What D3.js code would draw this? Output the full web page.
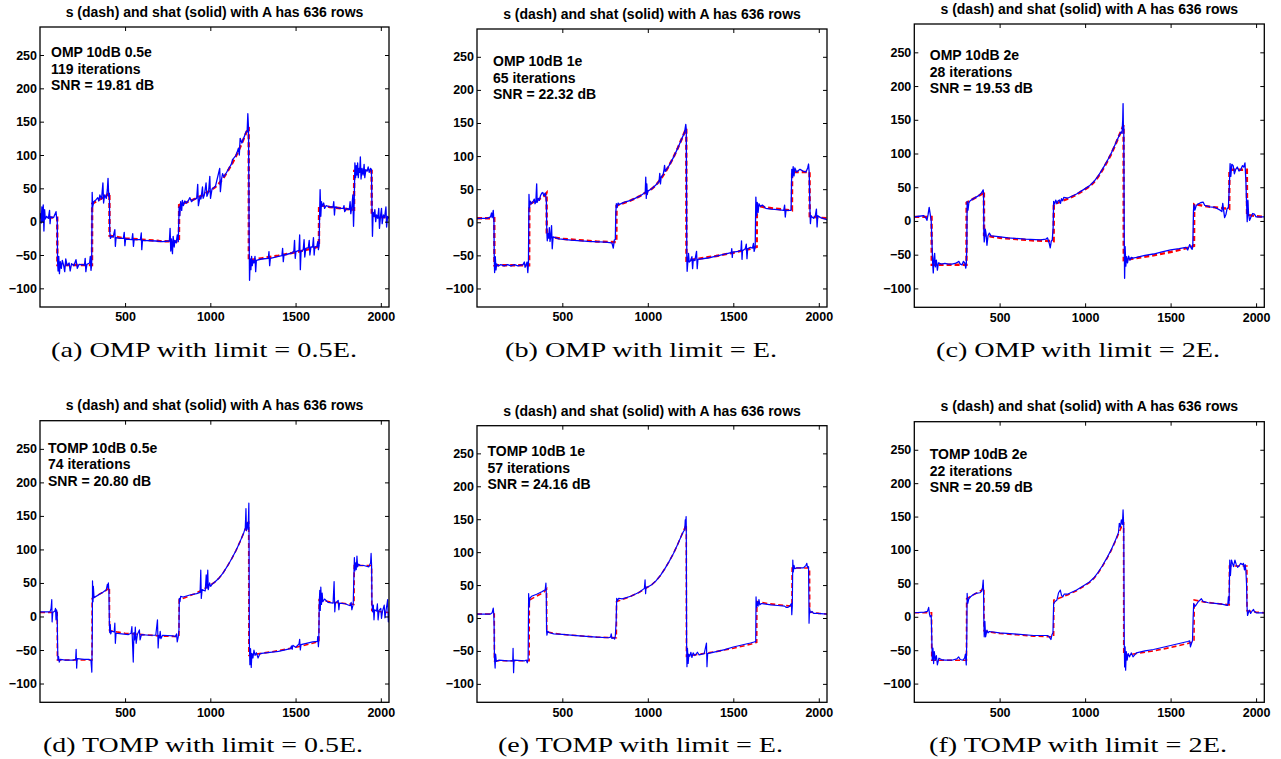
<!DOCTYPE html>
<html>
<head>
<meta charset="utf-8">
<script src="https://cdn.jsdelivr.net/npm/d3@7"></script>
<style>
  body { margin: 0; background: #fff; }
  .tick text { font-family: "Liberation Sans", Arial, sans-serif; font-weight: bold; font-size: 12.5px; fill: #000; }
  .tick line { stroke: #000; stroke-width: 1; }
</style>
</head>
<body>
<script>
// ---- data ----
let xTicks = [500, 1000, 1500, 2000];
let yTicks = [-100, -50, 0, 50, 100, 150, 200, 250];
let titleText = "s (dash) and shat (solid) with A has 636 rows";

// true signal s (red dashed)
let sTrue = [[1,6],[102,6],[103,-65],[306,-65],[307,27],[340,32],[370,36],[395,40],[408,44],[409,-21],[450,-23],[500,-25],[600,-27],[700,-29],[816,-30],[817,25],[850,28],[900,33],[950,39],[1000,47],[1025,51],[1050,57],[1075,65],[1100,75],[1125,86],[1150,98],[1175,112],[1200,127],[1225,142],[1226,-58],[1300,-55],[1400,-51],[1500,-46],[1600,-40],[1637,-37],[1638,25],[1700,22],[1800,19],[1843,18],[1844,76],[1946,76],[1947,9],[2000,7],[2048,6]];

// reconstructions shat (blue solid)
let shatOmp05 = [[1,6],[5,12],[8,-2],[12,22],[16,0],[20,25],[24,-14],[28,18],[32,4],[40,8],[50,5],[57,17],[60,-3],[64,7],[80,6],[95,15],[99,4],[102,6],
[104,-60],[107,-74],[111,-52],[115,-78],[120,-60],[126,-70],[132,-58],[140,-66],[146,-75],[152,-56],[160,-66],[172,-62],[178,-74],[186,-63],[200,-66],[212,-57],[220,-70],[230,-64],[262,-65],[266,-55],[270,-75],[276,-64],[292,-62],[296,-52],[300,-73],[304,-65],
[307,44],[310,22],[316,30],[330,33],[340,36],[346,31],[352,40],[362,34],[370,58],[374,28],[380,40],[390,35],[396,48],[400,65],[404,38],[408,42],
[410,-15],[414,-25],[420,-22],[430,-23],[440,-12],[443,-37],[447,-24],[470,-25],[490,-25],[495,-16],[499,-36],[503,-26],[540,-27],[545,-18],[549,-37],[553,-27],[590,-27],[595,-17],[598,-42],[602,-28],[680,-29],[720,-30],[760,-29],[764,-10],[768,-44],[772,-26],[778,-48],[782,-22],[788,-38],[792,-28],[800,-32],[806,-20],[812,-30],
[817,22],[821,9],[826,30],[832,17],[836,32],[842,24],[850,31],[860,28],[870,31],[880,36],[890,30],[900,33],[920,35],[926,56],[930,24],[940,38],[945,34],[954,52],[958,35],[965,40],[975,58],[980,38],[990,45],[997,68],[1001,35],[1010,49],[1030,53],[1055,80],[1059,45],[1066,64],[1072,72],[1080,67],[1100,76],[1125,87],[1130,93],[1150,99],[1165,110],[1170,100],[1175,125],[1185,118],[1200,128],[1210,135],[1216,135],[1220,162],[1224,140],
[1228,-32],[1230,-88],[1234,-56],[1238,-72],[1242,-52],[1246,-66],[1250,-58],[1256,-62],[1262,-52],[1266,-75],[1270,-58],[1300,-56],[1340,-55],[1344,-45],[1348,-66],[1352,-55],[1400,-52],[1420,-51],[1424,-40],[1428,-60],[1432,-50],[1480,-47],[1490,-44],[1494,-28],[1498,-55],[1502,-45],[1520,-43],[1524,-20],[1528,-72],[1532,-45],[1545,-42],[1550,-27],[1554,-53],[1560,-40],[1575,-39],[1580,-28],[1584,-50],[1590,-38],[1600,-38],[1605,-24],[1609,-50],[1613,-38],[1625,-37],[1630,-30],[1634,-42],[1638,-36],
[1641,12],[1644,48],[1648,8],[1652,30],[1656,23],[1665,28],[1670,20],[1680,24],[1700,22],[1720,22],[1724,30],[1728,10],[1732,22],[1760,20],[1780,20],[1784,24],[1788,15],[1800,20],[1815,18],[1820,30],[1824,12],[1830,22],[1836,40],[1840,-7],[1843,18],
[1846,60],[1848,88],[1852,66],[1856,84],[1860,70],[1864,88],[1868,66],[1872,80],[1876,74],[1880,97],[1884,64],[1890,80],[1896,70],[1902,86],[1906,66],[1912,78],[1920,76],[1926,82],[1932,74],[1940,80],[1945,78],
[1948,22],[1951,-22],[1955,14],[1960,8],[1965,18],[1970,0],[1975,10],[1982,5],[1988,20],[1992,-10],[1998,8],[2004,20],[2008,-3],[2015,10],[2022,6],[2030,22],[2034,-8],[2040,8],[2048,5]];

let shatOmp1 = [[1,6],[60,6],[80,8],[86,14],[90,7],[96,18],[100,2],
[102,-55],[104,-76],[108,-52],[112,-72],[116,-63],[125,-66],[140,-64],[160,-66],[180,-64],[200,-66],[220,-64],[240,-66],[270,-64],[278,-60],[282,-68],[288,-64],[294,-60],[298,-76],[302,-62],
[305,42],[308,22],[312,32],[320,28],[330,32],[336,35],[340,28],[345,30],[350,58],[353,30],[360,36],[366,33],[372,40],[380,44],[386,45],[392,40],[400,44],[404,38],[407,30],
[409,-12],[412,-28],[416,-17],[420,-24],[424,-8],[428,-29],[432,-22],[437,-5],[441,-40],[446,-22],[480,-25],[550,-27],[650,-29],[750,-30],[790,-31],[798,-39],[804,-27],[810,-26],
[813,15],[816,28],[820,22],[826,29],[835,27],[860,30],[900,33],[950,39],[985,45],[988,68],[991,36],[994,58],[997,42],[1000,47],[1025,51],[1050,57],[1066,62],[1070,74],[1074,58],[1078,68],[1090,72],[1095,80],[1098,86],[1102,77],[1125,86],[1150,98],[1175,112],[1200,127],[1215,136],[1222,148],[1225,140],
[1228,-50],[1230,-74],[1234,-60],[1238,-47],[1242,-60],[1250,-58],[1258,-52],[1262,-70],[1266,-56],[1275,-58],[1285,-44],[1289,-70],[1293,-56],[1350,-54],[1400,-51],[1450,-48],[1488,-46],[1491,-40],[1494,-53],[1497,-45],[1530,-44],[1545,-42],[1548,-28],[1551,-56],[1554,-43],[1570,-40],[1576,-33],[1580,-55],[1584,-40],[1600,-38],[1612,-39],[1618,-32],[1622,-44],[1628,-37],
[1632,38],[1636,10],[1640,30],[1645,15],[1650,28],[1658,24],[1670,26],[1690,21],[1720,20],[1760,19],[1795,18],[1800,26],[1804,8],[1808,18],[1838,18],
[1842,80],[1846,68],[1850,84],[1855,70],[1860,82],[1870,76],[1890,80],[1910,77],[1925,76],[1935,82],[1940,88],[1944,75],
[1948,22],[1951,-2],[1955,10],[1960,8],[1970,6],[1980,10],[1986,20],[1990,-7],[1994,10],[2010,7],[2048,4]];

let shatOmp2 = [[1,6],[30,7],[55,8],[70,4],[75,1],[82,10],[88,20],[94,10],[100,0],
[104,-30],[108,-60],[112,-77],[116,-55],[120,-48],[124,-68],[130,-58],[136,-73],[142,-62],[150,-63],[160,-64],[180,-63],[200,-64],[220,-64],[240,-63],[255,-61],[262,-60],[270,-64],[280,-65],[288,-60],[296,-62],[302,-70],[305,-64],
[308,-40],[310,29],[315,16],[320,27],[328,30],[340,32],[360,35],[380,38],[395,42],[404,46],[406,40],
[408,-20],[410,-31],[416,-12],[420,-18],[426,-36],[432,-22],[440,-18],[450,-22],[480,-23],[550,-25],[650,-27],[740,-28],[770,-27],[780,-25],[790,-33],[796,-40],[802,-30],[808,-28],
[813,-10],[816,29],[822,25],[828,31],[836,26],[842,30],[850,31],[856,26],[862,33],[868,30],[875,35],[900,34],[950,40],[1000,48],[1025,52],[1050,58],[1075,66],[1100,76],[1125,87],[1150,99],[1175,113],[1200,127],[1210,132],[1216,130],[1220,150],[1222,174],[1224,135],[1226,140],
[1229,-30],[1231,-85],[1234,-38],[1238,-67],[1242,-53],[1248,-62],[1254,-52],[1262,-58],[1270,-54],[1280,-55],[1300,-54],[1350,-51],[1400,-49],[1450,-46],[1500,-43],[1550,-41],[1590,-39],[1600,-43],[1612,-35],[1620,-40],[1626,-42],[1630,-35],
[1634,16],[1637,24],[1642,16],[1650,23],[1660,25],[1675,27],[1690,28],[1700,23],[1730,21],[1760,20],[1790,16],[1800,14],[1805,26],[1810,16],[1816,5],[1824,10],[1830,18],[1838,20],
[1844,55],[1848,85],[1852,66],[1858,84],[1866,82],[1873,70],[1880,76],[1890,80],[1900,74],[1910,76],[1920,82],[1928,80],[1935,86],[1940,61],
[1944,30],[1948,-1],[1952,31],[1956,10],[1962,1],[1970,6],[1980,11],[1990,10],[2000,6],[2048,6]];

let shatTomp05 = [[1,7],[60,7],[66,12],[70,25],[72,-8],[76,6],[88,8],[92,12],[95,-5],[98,10],[102,4],
[104,-40],[106,-65],[110,-60],[114,-68],[120,-64],[150,-65],[200,-65],[210,-64],[213,-49],[216,-77],[219,-63],[260,-64],[290,-64],[300,-66],[305,-83],
[308,-20],[309,53],[312,22],[314,45],[318,28],[330,30],[350,33],[370,36],[390,40],[396,48],[400,43],[402,50],[405,38],
[408,-10],[410,-24],[413,-12],[416,-26],[420,-22],[436,-23],[440,-10],[443,-40],[447,-25],[480,-26],[520,-27],[535,-25],[540,-15],[544,-42],[548,-68],[552,-24],[556,-35],[560,-16],[565,-40],[572,-27],[584,-20],[588,-35],[596,-27],[640,-28],[680,-28],[690,-5],[694,-47],[698,-28],[702,-32],[706,-22],[710,-33],[720,-28],[780,-29],[795,-30],[802,-26],[806,-38],[812,-30],
[816,-20],[818,27],[822,22],[826,30],[840,29],[880,32],[920,34],[940,36],[944,69],[947,27],[952,40],[970,38],[976,62],[980,42],[985,69],[988,40],[996,50],[1002,45],[1010,48],[1025,51],[1050,57],[1075,65],[1100,75],[1125,86],[1150,98],[1175,112],[1195,124],[1205,132],[1209,161],[1212,128],[1218,140],[1222,130],[1226,169],[1227,132],
[1229,-38],[1232,-72],[1236,-48],[1240,-76],[1244,-55],[1250,-62],[1256,-50],[1262,-58],[1270,-54],[1280,-62],[1290,-56],[1300,-55],[1400,-52],[1470,-48],[1476,-44],[1480,-49],[1484,-43],[1500,-46],[1520,-41],[1524,-34],[1528,-50],[1532,-42],[1600,-38],[1628,-37],[1630,-30],[1634,-45],[1636,-37],
[1639,20],[1642,39],[1645,9],[1648,44],[1652,18],[1656,35],[1660,22],[1670,26],[1690,21],[1720,20],[1726,52],[1730,7],[1734,20],[1750,24],[1754,10],[1758,20],[1790,19],[1820,16],[1826,21],[1830,10],[1838,18],
[1842,60],[1845,88],[1848,68],[1852,80],[1856,70],[1860,90],[1864,74],[1870,78],[1880,76],[1900,76],[1930,74],[1940,80],[1943,94],[1946,76],
[1948,20],[1952,7],[1956,17],[1960,-5],[1964,10],[1975,8],[1980,19],[1984,-5],[1990,9],[2000,12],[2004,-3],[2010,8],[2020,17],[2024,-2],[2030,8],[2040,25],[2044,-8],[2048,6]];

let shatTomp1 = [[1,6],[80,6],[90,8],[96,15],[99,6],[101,-10],
[103,-60],[107,-76],[110,-55],[114,-66],[130,-64],[180,-65],[210,-65],[212,-46],[215,-83],[218,-64],[280,-65],[290,-64],[295,-68],[300,-62],
[303,37],[306,17],[310,30],[320,33],[350,36],[380,40],[400,43],[404,53],[406,40],
[408,-20],[410,-26],[414,-20],[420,-22],[450,-24],[500,-25],[600,-27],[700,-29],[770,-30],[782,-29],[786,-24],[790,-31],[800,-30],[806,-32],[810,-27],
[815,-5],[818,30],[822,26],[830,30],[850,29],[900,33],[950,39],[980,45],[984,58],[987,37],[990,47],[1000,47],[1025,51],[1050,57],[1075,65],[1100,75],[1125,86],[1150,98],[1175,112],[1200,127],[1210,132],[1216,134],[1219,149],[1221,138],[1224,154],[1225,140],
[1227,-40],[1229,-74],[1232,-46],[1236,-69],[1240,-55],[1246,-58],[1252,-52],[1258,-60],[1265,-53],[1275,-57],[1290,-52],[1300,-56],[1330,-54],[1343,-38],[1346,-74],[1350,-54],[1400,-51],[1450,-48],[1500,-44],[1550,-41],[1600,-38],[1627,-36],[1631,-36],
[1633,32],[1636,16],[1640,25],[1645,18],[1650,28],[1655,20],[1665,22],[1690,21],[1720,20],[1760,19],[1800,18],[1810,16],[1818,16],[1830,18],[1840,22],[1842,5],[1845,18],
[1848,88],[1851,70],[1855,80],[1860,75],[1870,76],[1890,76],[1910,76],[1925,80],[1930,83],[1934,77],[1940,78],[1942,30],
[1943,-8],[1946,15],[1950,8],[1960,10],[1970,7],[1990,7],[2048,6]];

let shatTomp2 = [[1,6],[60,7],[78,8],[85,14],[90,4],[94,0],[100,2],
[104,-40],[106,-65],[110,-47],[114,-70],[118,-52],[124,-65],[130,-58],[136,-72],[145,-62],[160,-64],[180,-65],[220,-65],[250,-63],[260,-60],[270,-64],[285,-65],[295,-62],[300,-56],[305,-72],
[308,-30],[310,35],[314,20],[320,27],[330,30],[345,33],[360,35],[385,36],[395,38],[400,44],[404,55],[406,40],
[408,-10],[410,-30],[414,-7],[418,-30],[426,-20],[432,-24],[440,-22],[500,-24],[600,-26],[700,-28],[780,-28],[790,-30],[800,-34],[806,-27],[812,-24],
[814,0],[816,20],[825,23],[835,25],[845,36],[855,40],[862,32],[870,30],[878,34],[900,34],[950,40],[1000,48],[1025,52],[1050,58],[1075,66],[1100,76],[1125,87],[1150,99],[1175,113],[1195,126],[1200,140],[1206,134],[1212,145],[1218,138],[1222,160],[1226,135],
[1229,-37],[1231,-75],[1234,-45],[1237,-80],[1241,-52],[1246,-65],[1252,-55],[1260,-60],[1270,-54],[1280,-60],[1300,-54],[1350,-51],[1400,-49],[1450,-46],[1500,-43],[1550,-40],[1600,-37],[1612,-36],[1616,-45],[1622,-40],[1628,-36],
[1632,0],[1635,20],[1640,15],[1650,18],[1660,22],[1680,27],[1690,23],[1720,21],[1760,20],[1800,19],[1830,17],[1834,17],[1838,30],[1842,20],
[1846,85],[1850,62],[1856,85],[1862,80],[1868,75],[1876,85],[1884,78],[1892,74],[1900,76],[1910,80],[1920,78],[1926,80],[1932,70],[1936,78],[1940,70],[1944,50],
[1947,15],[1950,2],[1955,6],[1960,10],[1968,5],[1975,8],[1985,11],[1990,8],[2000,6],[2048,6]];

let shatSeries = [shatOmp05, shatOmp1, shatOmp2, shatTomp05, shatTomp1, shatTomp2];
let notes = [
  ["OMP 10dB 0.5e", "119 iterations", "SNR = 19.81 dB"],
  ["OMP 10dB 1e", "65 iterations", "SNR = 22.32 dB"],
  ["OMP 10dB 2e", "28 iterations", "SNR = 19.53 dB"],
  ["TOMP 10dB 0.5e", "74 iterations", "SNR = 20.80 dB"],
  ["TOMP 10dB 1e", "57 iterations", "SNR = 24.16 dB"],
  ["TOMP 10dB 2e", "22 iterations", "SNR = 20.59 dB"]
];
let captions = [
  "(a) OMP with limit = 0.5E.", "(b) OMP with limit = E.", "(c) OMP with limit = 2E.",
  "(d) TOMP with limit = 0.5E.", "(e) TOMP with limit = E.", "(f) TOMP with limit = 2E."
];

// ---- layout (pixels) ----
let w = 1281, h = 759;
let panels = [
  {l: 40,    r: 389,    t: 27,    b: 307,   titleY: 16.5,  nx: 11,   ny: 30,   capX: 51,  capW: 306, capY: 357, redW: 2.4, blueW: 1.3},
  {l: 477,   r: 827,    t: 29,    b: 307,   titleY: 18.5,  nx: 16,   ny: 37,   capX: 505, capW: 272, capY: 357, redW: 2.4, blueW: 1.3},
  {l: 914.3, r: 1264.3, t: 24,    b: 307.3, titleY: 13.5,  nx: 15.5, ny: 36,   capX: 936, capW: 284, capY: 357, redW: 2.4, blueW: 1.3},
  {l: 40,    r: 389,    t: 420.7, b: 702.3, titleY: 409.5, nx: 8,    ny: 32,   capX: 43,  capW: 320, capY: 751.5, redW: 1.6, blueW: 1.2},
  {l: 477,   r: 827,    t: 425.7, b: 702.3, titleY: 415.5, nx: 10.5, ny: 30.3, capX: 498, capW: 285, capY: 751.5, redW: 1.6, blueW: 1.2},
  {l: 914.3, r: 1264.3, t: 421.7, b: 702.3, titleY: 410.5, nx: 15.5, ny: 37.3, capX: 929, capW: 298, capY: 751.5, redW: 1.6, blueW: 1.2}
];

let svg = d3.select("body")
  .append("svg")
  .attr("width", w)
  .attr("height", h);

panels.forEach(function(p, i) {
  let xScale = d3.scaleLinear().domain([1, 2048]).range([p.l, p.r]);
  let yScale = d3.scaleLinear().domain([-128, 292]).range([p.b, p.t]);
  let line = d3.line().x(d => xScale(d[0])).y(d => yScale(d[1]));

  let g = svg.append("g").attr("class", "panel");

  g.append("clipPath")
    .attr("id", "clip" + i)
    .append("rect")
    .attr("x", p.l).attr("y", p.t)
    .attr("width", p.r - p.l).attr("height", p.b - p.t);

  let plot = g.append("g").attr("clip-path", "url(#clip" + i + ")");
  plot.append("path")
    .datum(sTrue)
    .attr("d", line)
    .attr("fill", "none")
    .attr("stroke", "#ff0000")
    .attr("stroke-width", p.redW)
    .attr("stroke-dasharray", "5,3");
  plot.append("path")
    .datum(shatSeries[i])
    .attr("d", line)
    .attr("fill", "none")
    .attr("stroke", "#0000ff")
    .attr("stroke-width", p.blueW)
    .attr("stroke-linejoin", "round");

  // axes, ticks pointing inward on all four sides
  let fmt = d3.format("d");
  let bottom = g.append("g")
    .attr("transform", "translate(0," + p.b + ")")
    .call(d3.axisBottom(xScale).tickValues(xTicks).tickFormat(fmt).tickSize(-4).tickPadding(5.5));
  let left = g.append("g")
    .attr("transform", "translate(" + p.l + ",0)")
    .call(d3.axisLeft(yScale).tickValues(yTicks).tickFormat(fmt).tickSize(-4).tickPadding(3));
  let top = g.append("g")
    .attr("transform", "translate(0," + p.t + ")")
    .call(d3.axisTop(xScale).tickValues(xTicks).tickSize(-4).tickFormat(""));
  let right = g.append("g")
    .attr("transform", "translate(" + p.r + ",0)")
    .call(d3.axisRight(yScale).tickValues(yTicks).tickSize(-4).tickFormat(""));
  [bottom, left, top, right].forEach(a => a.select(".domain").remove());

  g.append("rect")
    .attr("x", p.l).attr("y", p.t)
    .attr("width", p.r - p.l).attr("height", p.b - p.t)
    .attr("fill", "none")
    .attr("stroke", "#000")
    .attr("stroke-width", 1.3);

  g.append("text")
    .attr("x", (p.l + p.r) / 2)
    .attr("y", p.titleY)
    .attr("text-anchor", "middle")
    .style("font-family", "'Liberation Sans', Arial, sans-serif")
    .style("font-weight", "bold")
    .style("font-size", "14px")
    .text(titleText);

  g.selectAll(".note")
    .data(notes[i])
    .enter()
    .append("text")
    .attr("class", "note")
    .attr("x", p.l + p.nx)
    .attr("y", (d, k) => p.t + p.ny + k * 16.7)
    .style("font-family", "'Liberation Sans', Arial, sans-serif")
    .style("font-weight", "bold")
    .style("font-size", "14px")
    .text(d => d);

  g.append("text")
    .attr("x", p.capX)
    .attr("y", p.capY)
    .attr("textLength", p.capW)
    .attr("lengthAdjust", "spacingAndGlyphs")
    .style("font-family", "'Liberation Serif', 'Times New Roman', serif")
    .style("font-size", "22px")
    .text(captions[i]);
});
</script>
</body>
</html>
